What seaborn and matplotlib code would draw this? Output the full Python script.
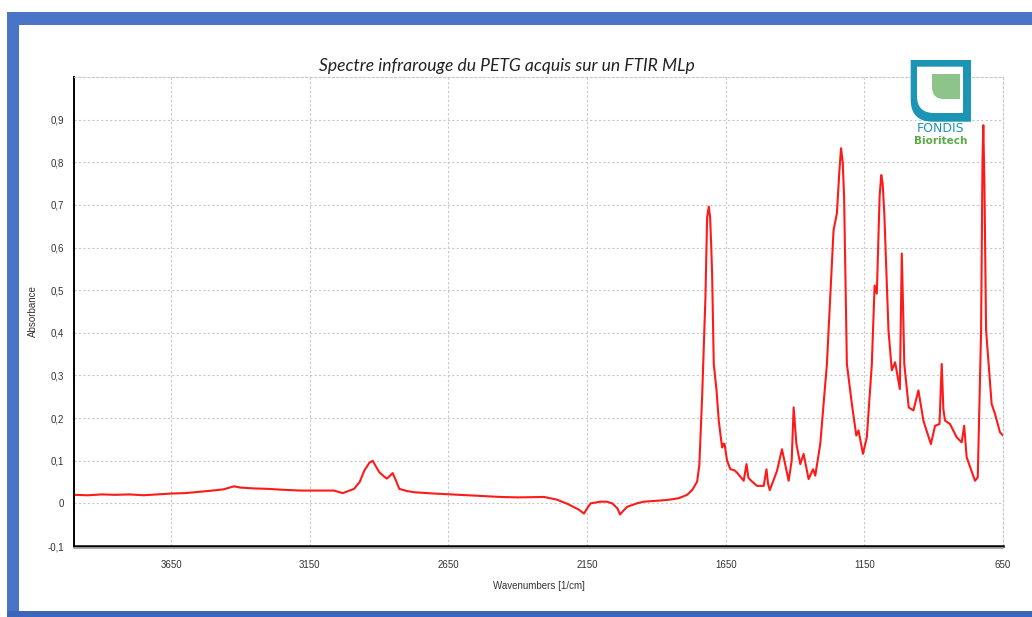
import matplotlib
matplotlib.use("Agg")
import matplotlib.pyplot as plt
import seaborn as sns
import pandas as pd
from matplotlib.path import Path
from matplotlib.patches import PathPatch, Rectangle
from matplotlib.lines import Line2D
from matplotlib.ticker import FuncFormatter

# ---------------- data ----------------
wavenumbers = [4000, 3950, 3900, 3850, 3800, 3750, 3700, 3650, 3600, 3550, 3500, 3460,
               3423, 3400, 3350, 3300, 3250, 3181, 3100, 3063, 3031, 2990, 2970, 2953,
               2935, 2923, 2910, 2899, 2880, 2872, 2860, 2851, 2840, 2827, 2800, 2773,
               2700, 2641, 2550, 2461, 2400, 2305, 2260, 2221, 2179, 2161, 2150, 2137,
               2101, 2080, 2059, 2040, 2031, 2020, 2005, 1970, 1945, 1900, 1861, 1820,
               1789, 1770, 1753, 1745, 1735, 1723, 1717, 1711, 1706, 1702, 1699, 1693, 1683,
               1675, 1663, 1658, 1654, 1645, 1633, 1620, 1609, 1585, 1575, 1568, 1558,
               1537, 1513, 1503, 1497, 1491, 1465, 1447, 1435, 1423, 1412, 1405, 1395,
               1381, 1369, 1351, 1335, 1327, 1309, 1285, 1261, 1249, 1240, 1234, 1228, 1223,
               1213, 1195, 1179, 1171, 1155, 1141, 1123, 1113, 1105, 1095, 1089, 1084, 1078,
               1063, 1051, 1039, 1022, 1018, 1015, 1010, 1006, 990, 973, 955, 937,
               910, 895, 879, 871, 865, 859, 841, 817, 799, 790, 781, 751,
               741, 729, 724, 721, 717, 711, 691, 679, 661, 650]
absorbance = [0.020, 0.019, 0.021, 0.020, 0.021, 0.019, 0.021, 0.023, 0.024, 0.027, 0.030, 0.033,
              0.040, 0.037, 0.035, 0.034, 0.032, 0.030, 0.030, 0.030, 0.024, 0.034, 0.050, 0.077,
              0.095, 0.100, 0.085, 0.073, 0.062, 0.058, 0.065, 0.071, 0.055, 0.034, 0.029, 0.026,
              0.023, 0.021, 0.018, 0.015, 0.014, 0.015, 0.009, -0.001, -0.015, -0.024, -0.012, 0.000,
              0.004, 0.004, 0.000, -0.012, -0.026, -0.018, -0.008, 0.000, 0.004, 0.006, 0.008, 0.012,
              0.020, 0.032, 0.051, 0.090, 0.249, 0.484, 0.670, 0.696, 0.670, 0.600, 0.540, 0.327, 0.265,
              0.194, 0.131, 0.140, 0.139, 0.100, 0.080, 0.078, 0.072, 0.053, 0.092, 0.060, 0.053,
              0.041, 0.041, 0.080, 0.045, 0.031, 0.076, 0.127, 0.090, 0.053, 0.100, 0.225, 0.139,
              0.092, 0.116, 0.057, 0.080, 0.065, 0.139, 0.327, 0.641, 0.680, 0.780, 0.833, 0.800, 0.719,
              0.327, 0.233, 0.159, 0.171, 0.116, 0.155, 0.327, 0.511, 0.492, 0.720, 0.770, 0.750, 0.680,
              0.406, 0.312, 0.331, 0.268, 0.450, 0.586, 0.450, 0.327, 0.225, 0.218, 0.265, 0.194,
              0.139, 0.182, 0.186, 0.327, 0.220, 0.194, 0.186, 0.155, 0.143, 0.182, 0.108, 0.053,
              0.061, 0.406, 0.800, 0.887, 0.750, 0.406, 0.233, 0.210, 0.167, 0.159]

x_ticks = [3650, 3150, 2650, 2150, 1650, 1150, 650]
y_ticks = [-0.1, 0.0, 0.1, 0.2, 0.3, 0.4, 0.5, 0.6, 0.7, 0.8, 0.9]

title = "Spectre infrarouge du PETG acquis sur un FTIR MLp"
x_label = "Wavenumbers [1/cm]"
y_label = "Absorbance"

df = pd.DataFrame({"wn": wavenumbers, "ab": absorbance})

# ---------------- figure ----------------
sns.set_style("white")
plt.rcParams["font.family"] = ["Liberation Sans", "DejaVu Sans"]

W, H = 1032, 617
fig = plt.figure(figsize=(W / 100, H / 100), dpi=100)
fig.patch.set_facecolor("white")


def fx(x):
    return x / W


def fy(y):
    return 1 - y / H


ax = fig.add_axes([fx(74), fy(546), fx(1003) - fx(74), fy(77) - fy(546)])

sns.lineplot(data=df, x="wn", y="ab", ax=ax, color="#ff1a1a", linewidth=1.5,
             estimator=None, sort=True)

ax.set_xlim(4000, 650)
ax.set_ylim(-0.1, 1.0)
ax.set_xticks(x_ticks)
ax.set_yticks(y_ticks)


def comma_fmt(v, pos):
    if abs(v) < 1e-9:
        return "0"
    return ("%.1f" % v).replace(".", ",")


ax.yaxis.set_major_formatter(FuncFormatter(comma_fmt))
ax.xaxis.set_major_formatter(FuncFormatter(lambda v, p: "%d" % v))

ax.grid(True, color="#c8c8c8", linestyle=(0, (2, 2)), linewidth=0.8)
ax.set_axisbelow(True)

for side in ["top", "right"]:
    ax.spines[side].set_color("#c8c8c8")
    ax.spines[side].set_linestyle((0, (2, 2)))
    ax.spines[side].set_linewidth(0.8)
ax.spines["left"].set_color("black")
ax.spines["left"].set_linewidth(1.4)
ax.spines["bottom"].set_color("black")
ax.spines["bottom"].set_linewidth(1.8)

ax.tick_params(axis="both", which="major", direction="out", length=4, width=1.2,
               color="black", labelsize=7, labelcolor="#333333", pad=3)
ax.tick_params(axis="x", pad=6)

ax.set_xlabel(x_label, fontsize=7, color="#333333", labelpad=8)
ax.set_ylabel(y_label, fontsize=7, color="#333333", labelpad=7)

# bottom axis shadow
fig.add_artist(Line2D([fx(74), fx(1003)], [fy(548.3), fy(548.3)], color="#a0a0a0",
                      linewidth=1.3, transform=fig.transFigure))

# title
fig.text(fx(507), fy(66), title, ha="center", va="center", fontsize=12.6,
         style="italic", family=["Lato", "DejaVu Sans"], color="#222222")

# ---------------- blue window frame ----------------
blue = "#4a74c6"
fig.add_artist(Rectangle((fx(7), fy(25)), fx(W) - fx(7), fy(12.5) - fy(25),
                         transform=fig.transFigure, color=blue, lw=0))
fig.add_artist(Rectangle((fx(7), fy(H)), fx(19) - fx(7), fy(12.5) - fy(H),
                         transform=fig.transFigure, color=blue, lw=0))
fig.add_artist(Rectangle((fx(7), fy(H)), fx(W) - fx(7), fy(611) - fy(H),
                         transform=fig.transFigure, color="#3d66bb", lw=0))


# ---------------- logo ----------------
def rounded_bl(x0, y0, x1, y1, r):
    verts = [(x0, y0), (x1, y0), (x1, y1), (x0 + r, y1), (x0, y1), (x0, y1 - r), (x0, y0)]
    codes = [Path.MOVETO, Path.LINETO, Path.LINETO, Path.LINETO, Path.CURVE3, Path.CURVE3,
             Path.CLOSEPOLY]
    return Path([(fx(a), fy(b)) for a, b in verts], codes)


fig.add_artist(PathPatch(rounded_bl(910.7, 60, 971, 121.7, 22), facecolor="#1b95b3",
                         edgecolor="none", transform=fig.transFigure))
fig.add_artist(PathPatch(rounded_bl(917, 66.7, 963, 113, 17), facecolor="white",
                         edgecolor="none", transform=fig.transFigure))
fig.add_artist(PathPatch(rounded_bl(932, 74, 960, 99, 12), facecolor="#8cc48a",
                         edgecolor="none", transform=fig.transFigure))
fig.text(fx(941), fy(129), "FONDIS", ha="center", va="center", fontsize=9,
         color="#1b95b3", family=["DejaVu Sans"])
fig.text(fx(941), fy(141), "Bioritech", ha="center", va="center", fontsize=7.5,
         color="#5aab45", fontweight="bold", family=["DejaVu Sans"])

fig.savefig("out.png", dpi=100)
